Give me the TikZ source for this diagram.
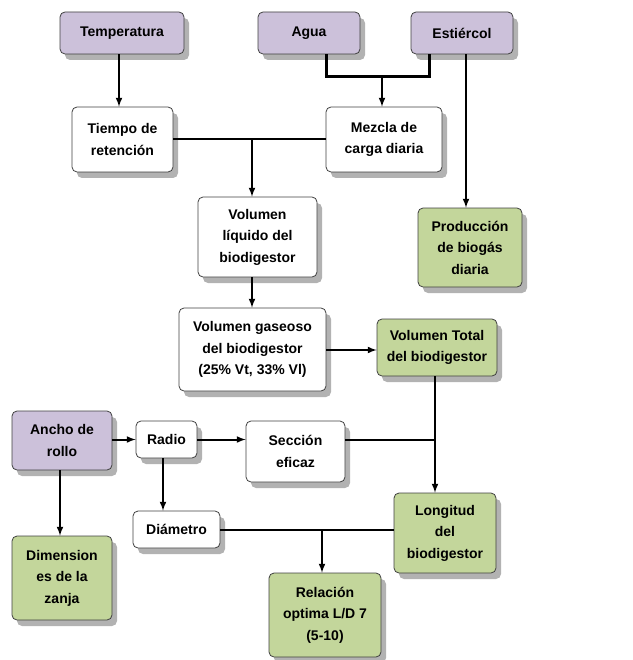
\documentclass[tikz,border=0pt]{standalone}
\usepackage{fontspec}
\setmainfont{Liberation Sans}
\usepackage{tikz}
\usetikzlibrary{positioning,arrows,calc,shadows}
\definecolor{lila}{HTML}{CCC1DA}
\definecolor{oliva}{HTML}{C3D69B}

\begin{document}
\begin{tikzpicture}[x=1pt, y=-1pt,
    caja/.style={rectangle, rounded corners=5pt, draw=black!75, line width=0.8pt,
      align=center, font=\fontsize{14}{21.5}\selectfont\bfseries, inner sep=0pt,
      drop shadow={shadow xshift=5pt, shadow yshift=-6pt, fill=black!30, opacity=1}},
    entrada/.style={caja, fill=lila},
    salida/.style={caja, fill=oliva},
    paso/.style={caja, fill=white},
    flecha/.style={-latex, line width=2pt},
    linea/.style={line width=2pt}]
  \useasboundingbox (0,0) rectangle (632,660);
  % entradas
  \node[entrada, minimum width=124pt, minimum height=42pt] (temp) at (122,33) {Temperatura};
  \node[entrada, minimum width=102pt, minimum height=42pt] (agua) at (309,33) {Agua};
  \node[entrada, minimum width=102pt, minimum height=42pt] (estiercol) at (462,33) {Estiércol};
  \node[paso, minimum width=101pt, minimum height=65pt] (tiempo) at (122.5,139.5) {Tiempo de\\retención};
  \node[paso, minimum width=116pt, minimum height=65pt] (mezcla) at (384,139.5) {Mezcla de\\carga diaria};
  \node[paso, minimum width=119pt, minimum height=80pt] (vliq) at (257.5,237) {Volumen\\líquido del\\biodigestor};
  \node[salida, minimum width=104pt, minimum height=79pt] (prod) at (470,247.5) {Producción\\de biogás\\diaria};
  \node[paso, minimum width=147pt, minimum height=83pt] (vgas) at (252.5,349.5) {Volumen gaseoso\\del biodigestor\\(25\% Vt, 33\% Vl)};
  \node[salida, minimum width=120pt, minimum height=57pt] (vtot) at (437,347.5) {Volumen Total\\del biodigestor};
  % geometria de la zanja
  \node[entrada, minimum width=100pt, minimum height=59pt] (ancho) at (62,440.5) {Ancho de\\rollo};
  \node[paso, minimum width=61pt, minimum height=37pt] (radio) at (166.5,439.5) {Radio};
  \node[paso, minimum width=99pt, minimum height=61pt] (seccion) at (295.5,451.5) {Sección\\eficaz};
  \node[paso, minimum width=87pt, minimum height=37pt] (diametro) at (176.5,529.5) {Diámetro};
  \node[salida, minimum width=102pt, minimum height=80pt] (longitud) at (445,533) {Longitud\\del\\biodigestor};
  \node[salida, minimum width=112pt, minimum height=84pt] (relacion) at (325,615) {Relación\\optima L/D 7\\(5-10)};
  \node[salida, minimum width=100pt, minimum height=84pt] (dimen) at (62,578) {Dimension\\es de la\\zanja};

  \coordinate (juntaA) at (382,77);
  \coordinate (juntaB) at (252,139.5);
  \coordinate (juntaC) at (322,529.5);

  \draw[flecha] (temp.south -| 119,0) -- (tiempo.north -| 119,0);
  \draw[line width=3pt] (agua.south -| 326,0) |- (juntaA) -| (estiercol.south -| 429,0);
  \draw[flecha] (juntaA) -- (juntaA |- mezcla.north);
  \draw[flecha] (estiercol.south -| 466,0) -- (prod.north -| 466,0);
  \draw[linea] (tiempo.east) -- (mezcla.west);
  \draw[flecha] (juntaB) -- (juntaB |- vliq.north);
  \draw[flecha] (juntaB |- vliq.south) -- (juntaB |- vgas.north);
  \draw[flecha] (vgas.east |- 0,350) -- (vtot.west |- 0,350);
  \draw[flecha] (vtot.south -| 435,0) -- (longitud.north -| 435,0);
  \draw[flecha] (ancho.east |- radio.east) -- (radio.west);
  \draw[flecha] (radio.east) -- (seccion.west |- radio.east);
  \draw[linea] (seccion.east |- radio.east) -- (435,0 |- radio.east);
  \draw[flecha] (radio.south -| 163,0) -- (diametro.north -| 163,0);
  \draw[linea] (diametro.east) -- (longitud.west |- diametro.east);
  \draw[flecha] (juntaC) -- (juntaC |- relacion.north);
  \draw[flecha] (ancho.south -| 60,0) -- (dimen.north -| 60,0);
\end{tikzpicture}
\end{document}
